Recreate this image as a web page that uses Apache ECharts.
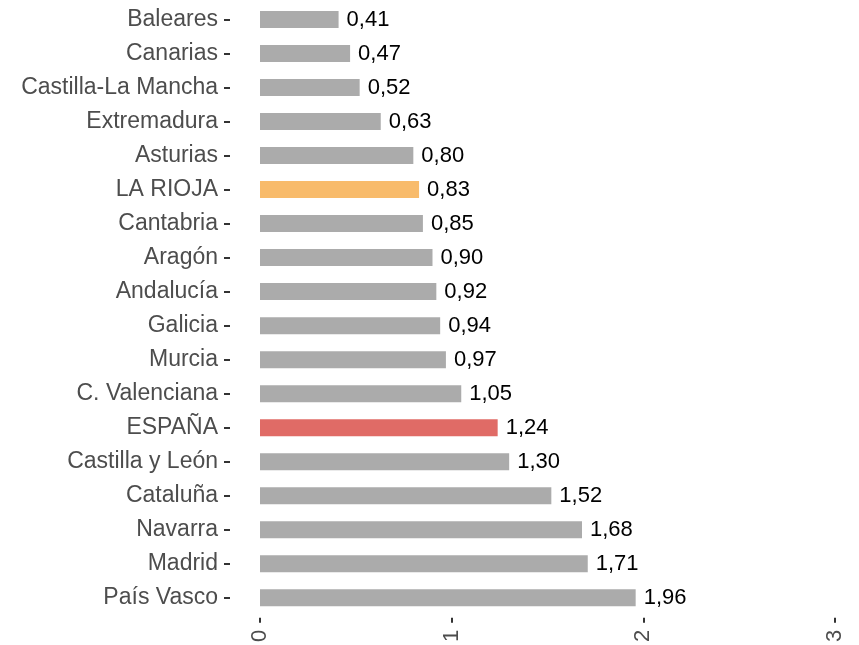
<!DOCTYPE html>
<html>
<head>
<meta charset="utf-8">
<script src="https://cdn.jsdelivr.net/npm/echarts@6/dist/echarts.min.js"></script>
<style>
  html, body { margin: 0; padding: 0; background: #fff; }
  #chart { width: 859px; height: 645px; }
</style>
</head>
<body>
<div id="chart"></div>
<script>
// regiones, de arriba a abajo
var regiones = ['Baleares', 'Canarias', 'Castilla-La Mancha', 'Extremadura', 'Asturias',
  'LA RIOJA', 'Cantabria', 'Aragón', 'Andalucía', 'Galicia', 'Murcia', 'C. Valenciana',
  'ESPAÑA', 'Castilla y León', 'Cataluña', 'Navarra', 'Madrid', 'País Vasco'];
var valores = [0.41, 0.47, 0.52, 0.63, 0.80, 0.83, 0.85, 0.90, 0.92, 0.94, 0.97, 1.05,
  1.24, 1.30, 1.52, 1.68, 1.71, 1.96];
var ticksX = [0, 1, 2, 3];

var colorBase = '#ababab';
var destacados = { 'LA RIOJA': '#f8bb6b', 'ESPAÑA': '#e06b66' };

var datos = valores.map(function (v, i) {
  var c = destacados[regiones[i]] || colorBase;
  return { value: v, itemStyle: { color: c } };
});

var fuente = 'Liberation Sans';

var option = {
  animation: false,
  grid: { left: 260, right: 24, top: 2.5, height: 618, containLabel: false },
  xAxis: {
    type: 'value',
    min: ticksX[0],
    max: ticksX[ticksX.length - 1],
    interval: 1,
    offset: 3,
    splitLine: { show: false },
    axisLine: { show: false, onZero: false },
    axisTick: { show: true, length: 5, lineStyle: { color: '#333', width: 2 } },
    axisLabel: {
      rotate: 90,
      margin: 12,
      color: '#4d4d4d',
      fontSize: 22,
      fontFamily: fuente
    }
  },
  yAxis: {
    type: 'category',
    data: regiones,
    inverse: true,
    offset: 30,
    axisLine: { show: false, onZero: false },
    axisTick: { show: true, length: 6, alignWithLabel: true, lineStyle: { color: '#333', width: 2 } },
    axisLabel: {
      margin: 12,
      color: '#4d4d4d',
      fontSize: 23,
      fontFamily: fuente
    }
  },
  series: [{
    type: 'bar',
    data: datos,
    barWidth: 17,
    label: {
      show: true,
      position: 'right',
      distance: 8,
      color: '#000',
      fontSize: 22,
      fontFamily: fuente,
      formatter: function (p) { return p.value.toFixed(2).replace('.', ','); }
    }
  }]
};

var myChart = echarts.init(document.getElementById('chart'));
myChart.setOption(option);
</script>
</body>
</html>
